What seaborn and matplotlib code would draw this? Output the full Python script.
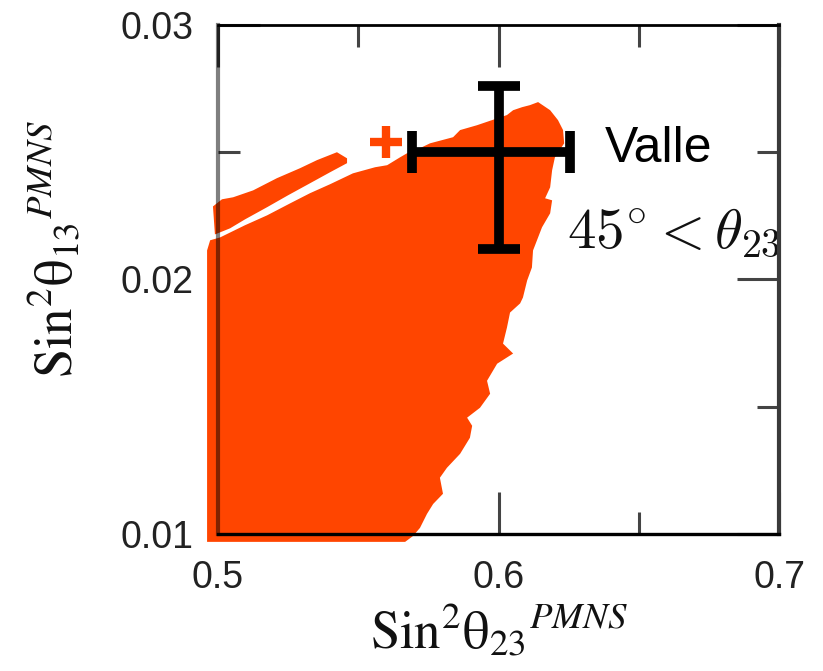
import matplotlib
matplotlib.use("Agg")
import matplotlib.pyplot as plt
from matplotlib.ticker import FixedLocator
import seaborn as sns
import pandas as pd

# Allowed region of the scan in the (sin^2 theta23, sin^2 theta13) plane (outline of the point cloud)
body_x = [0.4961, 0.4961, 0.4972, 0.5007, 0.5096, 0.5175, 0.5257, 0.5328, 0.5399, 0.5481,
          0.5560, 0.5603, 0.5649, 0.5674, 0.5720, 0.5756, 0.5838, 0.5863, 0.5923, 0.6030,
          0.6052, 0.6084, 0.6112, 0.6141, 0.6184, 0.6212, 0.6230, 0.6234, 0.6201, 0.6191,
          0.6184, 0.6166, 0.6191, 0.6184, 0.6155, 0.6123, 0.6119, 0.6102, 0.6087, 0.6077,
          0.6041, 0.6030, 0.6016, 0.6052, 0.5995, 0.5959, 0.5970, 0.5934, 0.5888, 0.5906,
          0.5898, 0.5863, 0.5816, 0.5791, 0.5802, 0.5767, 0.5745, 0.5720, 0.5695, 0.5667]
body_y = [0.00969, 0.02114, 0.02154, 0.02165, 0.02213, 0.02252, 0.02299, 0.02339, 0.02374, 0.02417,
          0.02441, 0.02449, 0.02480, 0.02496, 0.02516, 0.02535, 0.02559, 0.02587, 0.02606, 0.02646,
          0.02665, 0.02677, 0.02685, 0.02697, 0.02665, 0.02626, 0.02587, 0.02535, 0.02480, 0.02429,
          0.02362, 0.02319, 0.02311, 0.02260, 0.02205, 0.02114, 0.02047, 0.01996, 0.01929, 0.01906,
          0.01870, 0.01811, 0.01748, 0.01709, 0.01669, 0.01602, 0.01551, 0.01496, 0.01457, 0.01425,
          0.01378, 0.01315, 0.01260, 0.01221, 0.01158, 0.01118, 0.01079, 0.01024, 0.00992, 0.00969]

# Thin upper strip of points, separated from the main body by a narrow gap
band_x = [0.4982, 0.5014, 0.5054, 0.5125, 0.5210, 0.5292, 0.5353, 0.5424, 0.5460, 0.5460,
          0.5399, 0.5328, 0.5250, 0.5175, 0.5096, 0.5043, 0.4989]
band_y = [0.02287, 0.02315, 0.02323, 0.02350, 0.02398, 0.02437, 0.02469, 0.02500, 0.02476, 0.02457,
          0.02421, 0.02378, 0.02331, 0.02284, 0.02236, 0.02201, 0.02177]

# Isolated scan point above the strip
stray_x = [0.5598]
stray_y = [0.02539]

# Measured best fit with its 1-sigma ranges
fit_x = 0.6
fit_y = 0.025
fit_xerr = [[0.0307], [0.0256]]
fit_yerr = [[0.0038], [0.0026]]

x_ticks = [0.5, 0.6, 0.7]
x_tick_labels = ["0.5", "0.6", "0.7"]
y_ticks = [0.01, 0.02, 0.03]
y_tick_labels = ["0.01", "0.02", "0.03"]
x_minor = [0.55, 0.65]
y_minor = [0.015, 0.025]

sns.set_theme(style="white")
plt.rcParams["font.family"] = ["Liberation Sans", "DejaVu Sans"]

fig = plt.figure(figsize=(8.23, 6.71), dpi=100)
ax = fig.add_axes([0.2649, 0.2042, 0.6817, 0.7586])

scan_color = "#FF4500"
ax.fill(body_x, body_y, color=scan_color, lw=0, clip_on=False, zorder=2)
ax.fill(band_x, band_y, color=scan_color, lw=0, clip_on=False, zorder=2)
stray = pd.DataFrame({"x": stray_x, "y": stray_y})
sns.scatterplot(data=stray, x="x", y="y", marker="+", s=520, linewidth=6,
                color=scan_color, ax=ax, zorder=2, clip_on=False, legend=False)

ax.errorbar(fit_x, fit_y, xerr=fit_xerr, yerr=fit_yerr, fmt="none", ecolor="black",
            elinewidth=7, capsize=15, capthick=7, zorder=5)

ax.text(0.638, 0.02461, "Valle", fontsize=36, ha="left", va="baseline", color="black",
        family=["Liberation Sans", "DejaVu Sans"])
ax.text(0.6244, 0.02126, r"$45^{\circ} < \theta_{23}$", fontsize=41, ha="left",
        va="baseline", color="#111111", math_fontfamily="cm")

ax.set_xlim(0.5, 0.7)
ax.set_ylim(0.01, 0.03)
ax.xaxis.set_major_locator(FixedLocator(x_ticks))
ax.xaxis.set_minor_locator(FixedLocator(x_minor))
ax.yaxis.set_major_locator(FixedLocator(y_ticks))
ax.yaxis.set_minor_locator(FixedLocator(y_minor))
ax.set_xticklabels(x_tick_labels)
ax.set_yticklabels(y_tick_labels)

ax.tick_params(which="both", direction="in", top=True, right=True, bottom=True, left=True,
               color="#444444", width=2.2, zorder=6)
ax.tick_params(which="major", length=30, labelsize=27, labelcolor="#222222")
ax.tick_params(axis="x", which="major", pad=19)
ax.tick_params(axis="y", which="major", pad=18)
ax.tick_params(which="minor", length=16)

spine_style = {"left": ((0, 0, 0, 0.5), 3.0), "right": ("#3a3a3a", 3.0),
               "top": ("black", 2.0), "bottom": ("black", 2.4)}
for side, (col, lw) in spine_style.items():
    ax.spines[side].set_visible(True)
    ax.spines[side].set_color(col)
    ax.spines[side].set_linewidth(lw)
    ax.spines[side].set_zorder(4)

ax.set_xlabel(r"$\mathrm{Sin}^{2}\mathrm{θ}_{23}{}^{\mathit{PMNS}}$", fontsize=38,
              math_fontfamily="stix", color="#111111")
ax.set_ylabel(r"$\mathrm{Sin}^{2}\mathrm{θ}_{\mathit{13}}{}^{\mathit{PMNS}}$", fontsize=38,
              math_fontfamily="stix", color="#111111")
ax.xaxis.set_label_coords(0.5, -0.135)
ax.yaxis.set_label_coords(-0.24, 0.56)

fig.savefig("out.png", dpi=100)
